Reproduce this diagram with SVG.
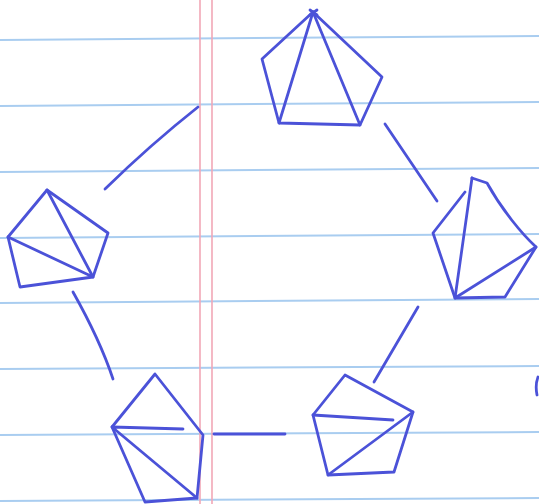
<svg xmlns="http://www.w3.org/2000/svg" width="539" height="504" viewBox="0 0 539 504">
<style>
.rule{stroke:#a9cdf0;stroke-width:2;fill:none}
.margin{stroke:#f2a7b6;stroke-width:1.6;fill:none}
.pen{stroke:#4b52d8;stroke-width:2.8;fill:none;stroke-linecap:round;stroke-linejoin:round}
</style>
<rect width="539" height="504" fill="#ffffff"/>
<g id="paper">
<path class="rule" d="M0 40L539 36"/>
<path class="rule" d="M0 106L539 102"/>
<path class="rule" d="M0 172L539 168"/>
<path class="rule" d="M0 238L539 234"/>
<path class="rule" d="M0 303L539 299"/>
<path class="rule" d="M0 369L539 366"/>
<path class="rule" d="M0 435L539 432"/>
<path class="rule" d="M0 501L539 498"/>
<path class="margin" d="M200 0V504"/>
<path class="margin" d="M212 0V504"/>
</g>
<g id="connectors">
<path class="pen" d="M105 189Q150 145 198 107"/>
<path class="pen" d="M385 124L437 201"/>
<path class="pen" d="M418 307L374 382"/>
<path class="pen" d="M73 292Q100 340 113 379"/>
<path class="pen" d="M214 434L285 434"/>
<path class="pen" d="M538 377Q535 385 537 395"/>
</g>
<g id="node-top">
<path class="pen" d="M313 12L382 77L360 125L279 123L262 59Z"/>
<path class="pen" d="M313 12L279 123M313 12L360 125"/>
<path class="pen" d="M310 10L317 15M317 10L310 15"/>
</g>
<g id="node-right">
<path class="pen" d="M465 192L433 233L455 298L505 297L536 247C522 234 502 210 487 183L472 178"/>
<path class="pen" d="M472 178L455 298L536 247"/>
</g>
<g id="node-left">
<path class="pen" d="M47 190L108 233L93 277L20 287L8 237Z"/>
<path class="pen" d="M47 190L93 277L8 237"/>
</g>
<g id="node-bottom-left">
<path class="pen" d="M155 374L203 435L197 498L145 502L112 427L155 374"/>
<path class="pen" d="M112 427L197 498M112 427L183 429"/>
</g>
<g id="node-bottom-right">
<path class="pen" d="M345 375L413 412L394 472L328 475L313 415Z"/>
<path class="pen" d="M313 415L393 420M328 475L413 412"/>
</g>
</svg>
